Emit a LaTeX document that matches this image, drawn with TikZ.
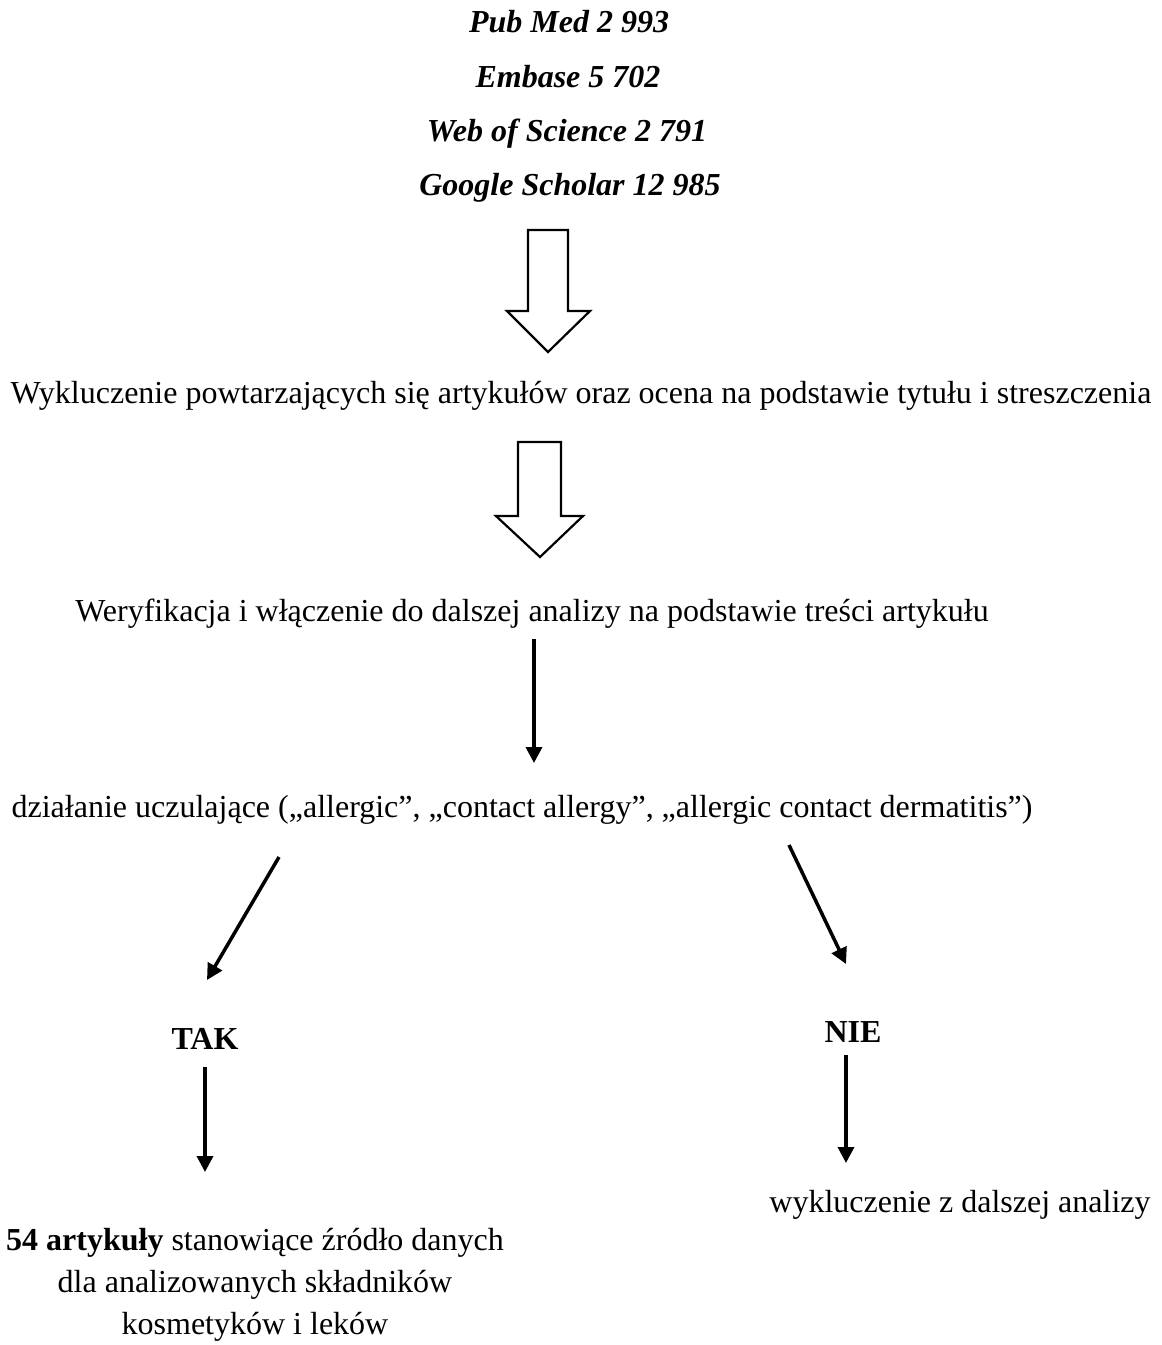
\documentclass[tikz,border=0pt]{standalone}
\usepackage{fontspec}
\setmainfont{Liberation Serif}
\usetikzlibrary{arrows.meta}
\begin{document}
\begin{tikzpicture}[x=1pt,y=-1pt,
  txt/.style={anchor=base,inner sep=0pt,font=\fontsize{32}{42}\selectfont},
  bi/.style={txt,font=\fontsize{32}{42}\selectfont\bfseries\itshape},
  bo/.style={txt,font=\fontsize{32}{42}\selectfont\bfseries},
  blockarrow/.style={draw=black,line width=2.2pt,fill=white,line join=miter},
  thinarrow/.style={line width=3.5pt,-{Triangle[length=16pt,width=16pt]}}]
\useasboundingbox[fill=white] (0,0) rectangle (1162,1345);
\node[bi] (pm) at (569,32) {Pub Med 2 993};
\node[bi] (em) at (568,87) {Embase 5 702};
\node[bi] (ws) at (567,141) {Web of Science 2 791};
\node[bi] (gs) at (570,195) {Google Scholar 12 985};
\draw[blockarrow] (528,230) -- (568,230) -- (568,311) -- (590,311) -- (548,352) -- (507,311) -- (528,311) -- cycle;
\node[txt] (wyk) at (581,403) {Wykluczenie powtarzających się artykułów oraz ocena na podstawie tytułu i streszczenia};
\draw[blockarrow] (518,442) -- (561,442) -- (561,516) -- (583,516) -- (540,557) -- (496,516) -- (518,516) -- cycle;
\node[txt] (wer) at (532,621) {Weryfikacja i włączenie do dalszej analizy na podstawie treści artykułu};
\node[txt] (dz) at (522,817) {działanie uczulające („allergic”, „contact allergy”, „allergic contact dermatitis”)};
\node[bo] (tak) at (205,1049) {TAK};
\node[bo] (nie) at (853,1042) {NIE};
\node[txt] (wz) at (960,1212) {wykluczenie z dalszej analizy};
\node[txt] (art1) at (255,1250) {\textbf{54 artykuły} stanowiące źródło danych};
\node[txt] (art2) at (255,1292) {dla analizowanych składników};
\node[txt] (art3) at (255,1334) {kosmetyków i leków};
\coordinate (a1s) at (534,639);
\coordinate (a1e) at (534,763);
\coordinate (a2s) at (279,857);
\coordinate (a2e) at (207,980);
\coordinate (a3s) at (789,845);
\coordinate (a3e) at (846,964);
\coordinate (a4s) at (205,1067);
\coordinate (a4e) at (205,1172);
\coordinate (a5s) at (846,1055);
\coordinate (a5e) at (846,1163);
\draw[thinarrow] (a1s) -- (a1e);
\draw[thinarrow] (a2s) -- (a2e);
\draw[thinarrow] (a3s) -- (a3e);
\draw[thinarrow] (a4s) -- (a4e);
\draw[thinarrow] (a5s) -- (a5e);
\end{tikzpicture}
\end{document}
